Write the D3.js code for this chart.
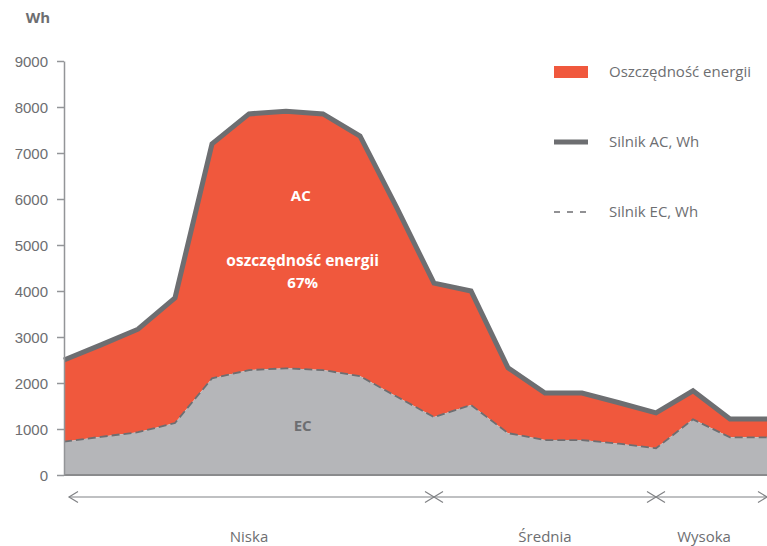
<!DOCTYPE html>
<meta charset="utf-8">
<style>
body { margin: 0; background: #fff; }
svg { display: block; font-family: "Open Sans", sans-serif; }
.axis text { fill: #6d6e71; font-size: 15px; }
.axis path, .axis line { stroke: #939598; stroke-width: 1.5px; }
.legend text { fill: #6d6e71; font-size: 15px; }
.inlabel { font-size: 15px; font-weight: bold; text-anchor: middle; }
</style>
<svg width="767" height="546"></svg>
<script src="https://cdn.jsdelivr.net/npm/d3@7"></script>
<script>
// values, Wh
var acValues = [2500, 2830, 3170, 3850, 7200, 7850, 7910, 7850, 7370, 5800,
                4170, 4000, 2330, 1780, 1780, 1570, 1350, 1830, 1220, 1220];
var ecValues = [725, 830, 930, 1130, 2100, 2280, 2320, 2280, 2150, 1700,
                1260, 1520, 910, 760, 760, 680, 580, 1210, 820, 820];
var yTicks = [0, 1000, 2000, 3000, 4000, 5000, 6000, 7000, 8000, 9000];
// range groups: start index, end index, label
var groups = [
  {from: 0, to: 10, label: "Niska"},
  {from: 10, to: 16, label: "Średnia"},
  {from: 16, to: 19, label: "Wysoka"}
];
var legendItems = ["Oszczędność energii", "Silnik AC, Wh", "Silnik EC, Wh"];

var orange = "#f0583d", grayFill = "#b5b6b9", dark = "#6d6e71";

var svg = d3.select("svg"),
    margin = {top: 61, right: 0, bottom: 71, left: 64},
    width = +svg.attr("width") - margin.left - margin.right,
    height = +svg.attr("height") - margin.top - margin.bottom,
    g = svg.append("g").attr("transform", "translate(" + margin.left + "," + margin.top + ")");

var data = acValues.map(function(v, i) { return {i: i, ac: v, ec: ecValues[i]}; });

var x = d3.scaleLinear().domain([0, data.length - 1]).range([0, width]),
    y = d3.scaleLinear().domain([0, 9000]).range([height, 0]);

// orange savings area between EC and AC
g.append("path")
    .datum(data)
    .attr("fill", orange)
    .attr("d", d3.area()
      .x(function(d) { return x(d.i); })
      .y0(function(d) { return y(d.ec); })
      .y1(function(d) { return y(d.ac); }));

// gray EC area
g.append("path")
    .datum(data)
    .attr("fill", grayFill)
    .attr("d", d3.area()
      .x(function(d) { return x(d.i); })
      .y0(y(0))
      .y1(function(d) { return y(d.ec); }));

// AC line
g.append("path")
    .datum(data)
    .attr("fill", "none")
    .attr("stroke", dark)
    .attr("stroke-width", 5)
    .attr("d", d3.line()
      .x(function(d) { return x(d.i); })
      .y(function(d) { return y(d.ac); }));

// EC dashed line
g.append("path")
    .datum(data)
    .attr("fill", "none")
    .attr("stroke", dark)
    .attr("stroke-width", 1.8)
    .attr("stroke-dasharray", "8,4")
    .attr("d", d3.line()
      .x(function(d) { return x(d.i); })
      .y(function(d) { return y(d.ec); }));

// baseline
g.append("line")
    .attr("x1", 0).attr("x2", width)
    .attr("y1", y(0)).attr("y2", y(0))
    .attr("stroke", "#8a8b8d")
    .attr("stroke-width", 2);

// y axis
var yAxis = g.append("g")
    .attr("class", "axis")
    .call(d3.axisLeft(y).tickValues(yTicks).tickFormat(d3.format("d"))
      .tickSize(7).tickSizeOuter(0).tickPadding(9));
yAxis.selectAll("text").attr("dy", "0.36em");

g.append("text")
    .attr("x", -26).attr("y", -38)
    .attr("text-anchor", "middle")
    .attr("fill", dark)
    .style("font-size", "15px")
    .style("font-weight", "bold")
    .text("Wh");

// in-chart labels
g.append("text").attr("class", "inlabel")
    .attr("x", x(6.4)).attr("y", y(5950))
    .attr("fill", "#fff")
    .text("AC");
g.append("text").attr("class", "inlabel")
    .attr("x", x(6.45)).attr("y", y(4540))
    .attr("fill", "#fff")
    .style("font-size", "15.5px")
    .text("oszczędność energii");
g.append("text").attr("class", "inlabel")
    .attr("x", x(6.45)).attr("y", y(4060))
    .attr("fill", "#fff")
    .style("font-size", "15px")
    .text("67%");
g.append("text").attr("class", "inlabel")
    .attr("x", x(6.45)).attr("y", y(950))
    .attr("fill", dark)
    .text("EC");

// range arrows under the axis
var arrowY = height + 22, ah = 9;
var arrows = g.append("g")
    .attr("stroke", "#808285")
    .attr("stroke-width", 1.2)
    .attr("fill", "none");
arrows.append("line")
    .attr("x1", x(0) + 5).attr("x2", width)
    .attr("y1", arrowY).attr("y2", arrowY);
groups.forEach(function(gr) {
  var a = x(gr.from) + (gr.from === 0 ? 5 : 0), b = x(gr.to);
  arrows.append("path").attr("d", "M" + (a + ah) + "," + (arrowY - ah / 2 - 1) + "L" + a + "," + arrowY + "L" + (a + ah) + "," + (arrowY + ah / 2 + 1));
  arrows.append("path").attr("d", "M" + (b - ah) + "," + (arrowY - ah / 2 - 1) + "L" + b + "," + arrowY + "L" + (b - ah) + "," + (arrowY + ah / 2 + 1));
  g.append("text")
      .attr("x", gr.label === "Wysoka" ? x(17.3) : (x(gr.from) + x(gr.to)) / 2)
      .attr("y", height + 67)
      .attr("text-anchor", "middle")
      .attr("fill", dark)
      .style("font-size", "15px")
      .text(gr.label);
});

// legend
var legend = svg.append("g").attr("class", "legend").attr("transform", "translate(554,0)");
var rows = legend.selectAll("g").data(legendItems).enter().append("g")
    .attr("transform", function(d, i) { return "translate(0," + (72 + i * 70) + ")"; });
rows.filter(function(d, i) { return i === 0; }).append("rect")
    .attr("x", 0).attr("y", -6).attr("width", 34).attr("height", 12)
    .attr("fill", orange);
rows.filter(function(d, i) { return i === 1; }).append("line")
    .attr("x1", 0).attr("x2", 34).attr("y1", 0).attr("y2", 0)
    .attr("stroke", dark).attr("stroke-width", 5);
rows.filter(function(d, i) { return i === 2; }).append("line")
    .attr("x1", 0).attr("x2", 34).attr("y1", 0).attr("y2", 0)
    .attr("stroke", dark).attr("stroke-width", 1.5).attr("stroke-dasharray", "6,7");
rows.append("text")
    .attr("x", 55).attr("y", 0).attr("dy", "0.35em")
    .text(function(d) { return d; });
</script>
